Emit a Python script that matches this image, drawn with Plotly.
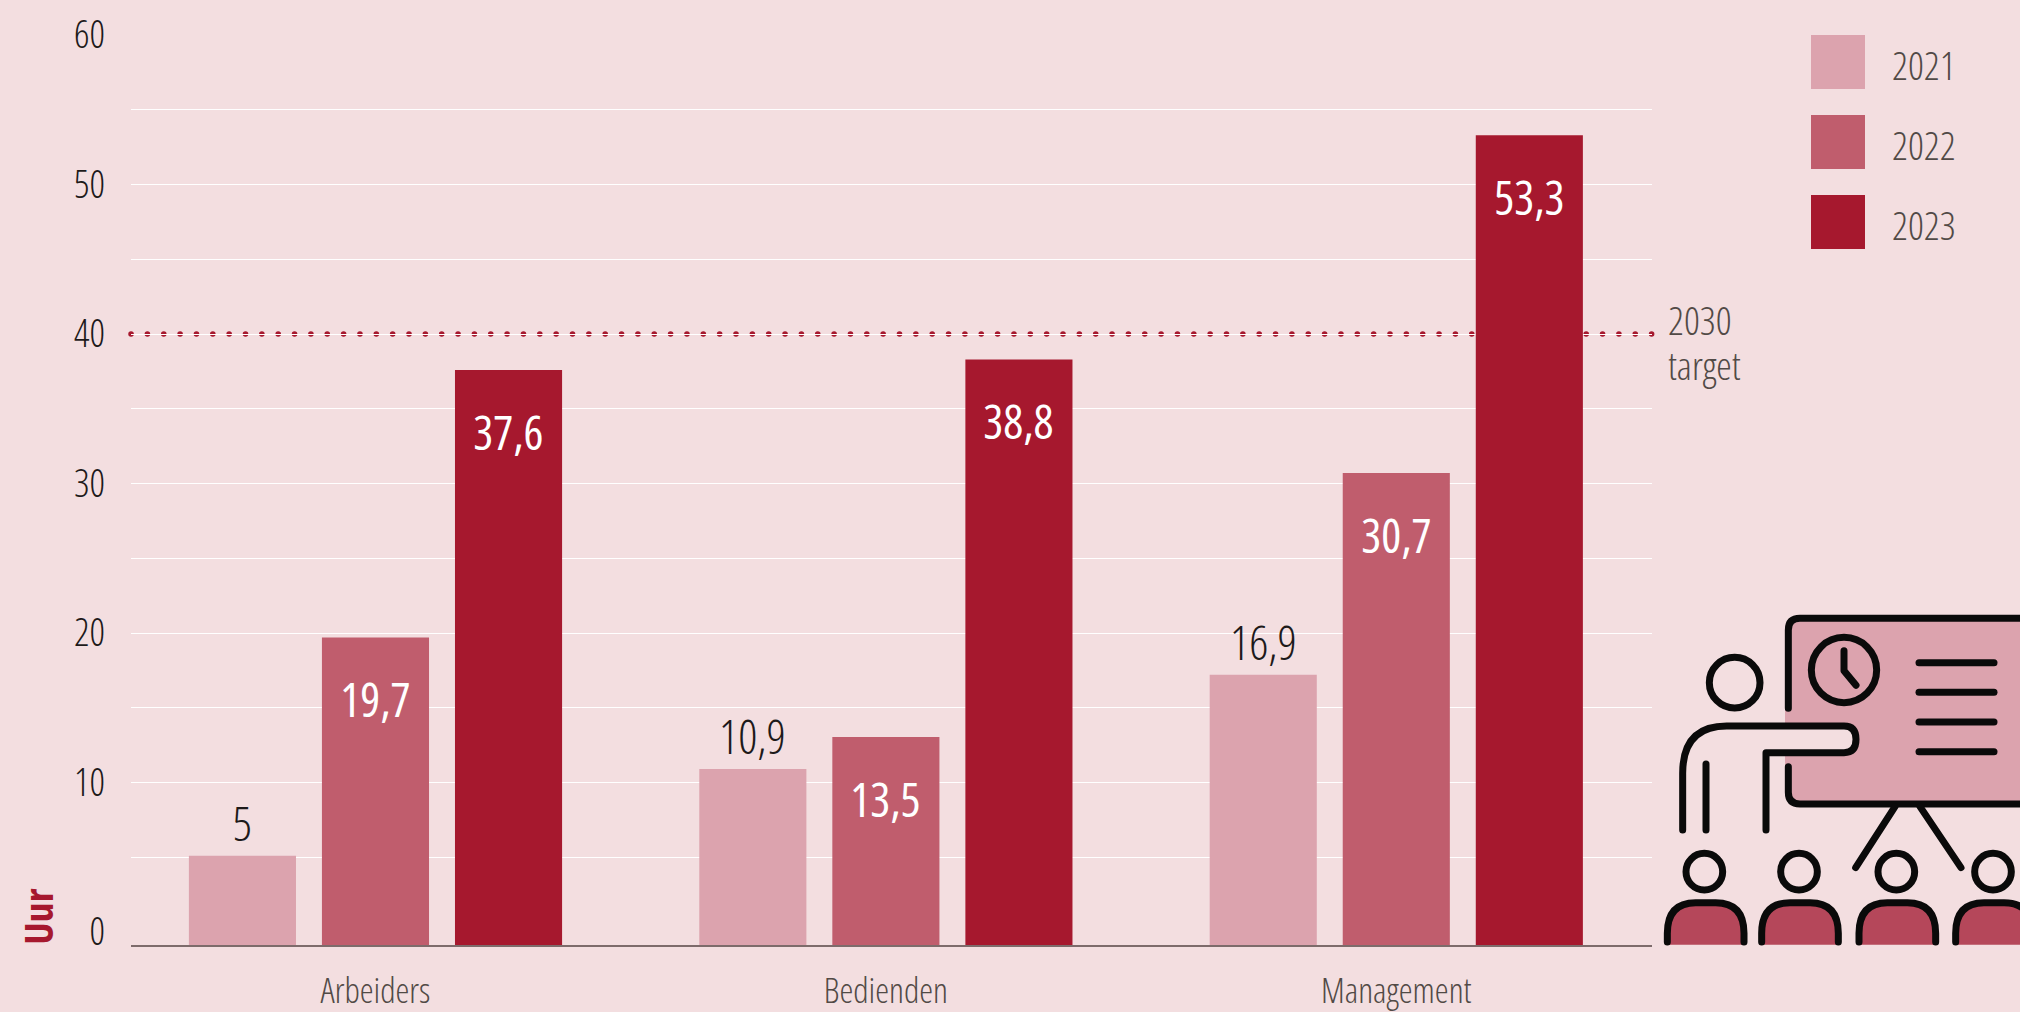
import plotly.graph_objects as go

categories = ["Arbeiders", "Bedienden", "Management"]
years = ["2021", "2022", "2023"]
values_2021 = [5.1, 10.9, 17.2]
values_2022 = [19.7, 13.05, 30.7]
values_2023 = [37.6, 38.3, 53.3]
labels_2021 = ["5", "10,9", "16,9"]
labels_2022 = ["19,7", "13,5", "30,7"]
labels_2023 = ["37,6", "38,8", "53,3"]
target_value = 40
y_tick_values = [0, 10, 20, 30, 40, 50, 60]
y_grid_values = [5, 10, 15, 20, 25, 30, 35, 40, 45, 50, 55, 60]

BG = "#f3dee0"
COLORS = ["#dca3ae", "#c05d6d", "#a6182e"]
RED = "#a6182e"
FONT = "Open Sans"
TEXT = "#514a46"
W, H = 2020, 1012
L, R, T, B = 131, 1652, 35, 945
AXIS_FLOOR = -0.87

def px(x):
    return (x - L) / (R - L)
def py(y):
    return (B - y) / (B - T)
def zx(x):
    return px(1620 + x / 3)
def zy(y):
    return py(600 + y / 3)

fig = go.Figure()
series = [values_2021, values_2022, values_2023]
for yr, vals, col in zip(years, series, COLORS):
    fig.add_trace(go.Bar(
        name=yr, x=categories, y=[v - AXIS_FLOOR for v in vals], base=AXIS_FLOOR,
        marker=dict(color=col, line=dict(width=0)), showlegend=False,
    ))

annotations = []
SHIFT = 133
for i, (vals, labs) in enumerate(zip(series, [labels_2021, labels_2022, labels_2023])):
    for cat, v, lab in zip(categories, vals, labs):
        inside = i > 0
        annotations.append(dict(
            x=cat, y=v, xref="x", yref="y", text=lab, showarrow=False,
            xshift=(i - 1) * SHIFT, yshift=-62 if inside else 33,
            font=dict(family=FONT, size=47, weight=400 if inside else 300,
                      color="#ffffff" if inside else "#1d1a1a"),
            xanchor="center", yanchor="middle",
        ))

def note(text, x, y, size=39, color=TEXT, **kw):
    annotations.append(dict(x=px(x), y=py(y), xref="paper", yref="paper", text=text, align="left",
                            showarrow=False, font=dict(family=FONT, size=size, weight=300, color=color),
                            xanchor="left", yanchor="middle", **kw))

for yr, yc in zip(years, [64, 144, 224]):
    note(yr, 1889.5, yc)
note("2030", 1665.5, 319)
note("target", 1665.5, 364)
annotations.append(dict(x=px(37), y=py(917), xref="paper", yref="paper", text="<b>Uur</b>",
                        showarrow=False, textangle=-90,
                        font=dict(family=FONT, size=40, weight=800, color=RED),
                        xanchor="center", yanchor="middle"))

shapes = []
# target line, behind the bars
shapes.append(dict(type="line", xref="paper", yref="y", x0=0, x1=1, y0=target_value, y1=target_value,
                   line=dict(color=RED, width=5.5, dash="0.1px,16.25px"), layer="below"))
# legend swatches
for col, y0, y1 in zip(COLORS, [35, 115, 195], [89, 169, 249]):
    shapes.append(dict(type="rect", xref="paper", yref="paper", x0=px(1811), x1=px(1865),
                       y0=py(y0), y1=py(y1), fillcolor=col, line=dict(width=0)))

# icon
STROKE = dict(color="#0a0a0a", width=7)
NOLINE = dict(width=0)
def path(pts, close=False):
    out = []
    for cmd in pts:
        if cmd[0] == "Q":
            out.append(f"Q{zx(cmd[1])},{zy(cmd[2])} {zx(cmd[3])},{zy(cmd[4])}")
        else:
            out.append(f"{cmd[0]}{zx(cmd[1])},{zy(cmd[2])}")
    return " ".join(out) + (" Z" if close else "")
def ipath(pts, fill=None, line=STROKE):
    d = dict(type="path", xref="paper", yref="paper", path=path(pts), line=line)
    if fill:
        d["fillcolor"] = fill
    shapes.append(d)
def circle(cx, cy, r, fill=None):
    d = dict(type="circle", xref="paper", yref="paper", x0=zx(cx - r), x1=zx(cx + r),
             y0=zy(cy + r), y1=zy(cy - r), line=STROKE)
    if fill:
        d["fillcolor"] = fill
    shapes.append(d)

ipath([("M", 495, 90), ("Q", 495, 55, 540, 55), ("L", 1260, 55), ("L", 1260, 612), ("L", 540, 612),
       ("Q", 495, 612, 495, 577), ("L", 495, 90)], fill=COLORS[0], line=NOLINE)
ipath([("M", 505, 325), ("L", 505, 90), ("Q", 505, 55, 540, 55), ("L", 1260, 55)])
ipath([("M", 505, 500), ("L", 505, 577), ("Q", 505, 612, 540, 612), ("L", 1260, 612)])
ipath([("M", 188, 690), ("L", 188, 520), ("Q", 188, 378, 320, 378), ("L", 672, 378),
       ("Q", 708, 378, 708, 418), ("Q", 708, 458, 672, 458), ("L", 438, 458), ("L", 438, 690)], fill=BG)
ipath([("M", 258, 492), ("L", 258, 690)])
circle(344, 248, 76)
circle(672, 210, 98)
ipath([("M", 672, 152), ("L", 672, 212), ("L", 708, 256)])
for yy in [188, 277, 366, 455]:
    ipath([("M", 897, yy), ("L", 1122, yy)])
ipath([("M", 825, 620), ("L", 707, 803)])
ipath([("M", 900, 620), ("L", 1023, 803)])
for hx, bx in zip([253, 537, 829, 1119], [257, 540, 832, 1122]):
    circle(hx, 815, 55)
    arch = [("L", bx - 115, 1000), ("Q", bx - 115, 908, bx - 30, 908),
            ("L", bx + 30, 908), ("Q", bx + 115, 908, bx + 115, 1000)]
    ipath([("M", bx - 115, 1034)] + arch + [("L", bx + 115, 1034)], fill="#b5475a", line=NOLINE)
    ipath([("M", bx - 115, 1026)] + arch + [("L", bx + 115, 1026)])

fig.update_layout(
    width=W, height=H, paper_bgcolor=BG, plot_bgcolor=BG,
    margin=dict(l=L, r=W - R, t=T, b=H - B, pad=0, autoexpand=False),
    barmode="group", bargap=0.218, bargroupgap=0.195,
    annotations=annotations, shapes=shapes, showlegend=False,
    font=dict(family=FONT),
)
fig.update_xaxes(type="category", range=[-0.479, 2.501], showgrid=False, showline=True, automargin=False,
                 linecolor="#7d6b6b", linewidth=2, ticks="", ticklabelstandoff=14,
                 tickfont=dict(family=FONT, size=35, weight=300, color=TEXT))
fig.update_yaxes(range=[AXIS_FLOOR, 60], tickmode="array", tickvals=y_tick_values, automargin=False,
                 ticktext=[str(v) for v in y_tick_values], showgrid=False, zeroline=False,
                 ticks="", ticklabelstandoff=25,
                 tickfont=dict(family=FONT, size=38, weight=300, color="#1d1a1a"),
                 minor=dict(tickmode="array", tickvals=y_grid_values, showgrid=True,
                            gridcolor="#ffffff", gridwidth=1.2, ticks=""))

post = """
var st = document.createElement('style');
st.textContent = 'body{margin:0} svg text{font-stretch:62.5%} '
  + '.shapelayer path{stroke-linecap:round;stroke-linejoin:round}';
document.head.appendChild(st);
Plotly.redraw(document.getElementById('{plot_id}'));
"""
fig.write_html("out.html", post_script=post, config={"displayModeBar": False})
